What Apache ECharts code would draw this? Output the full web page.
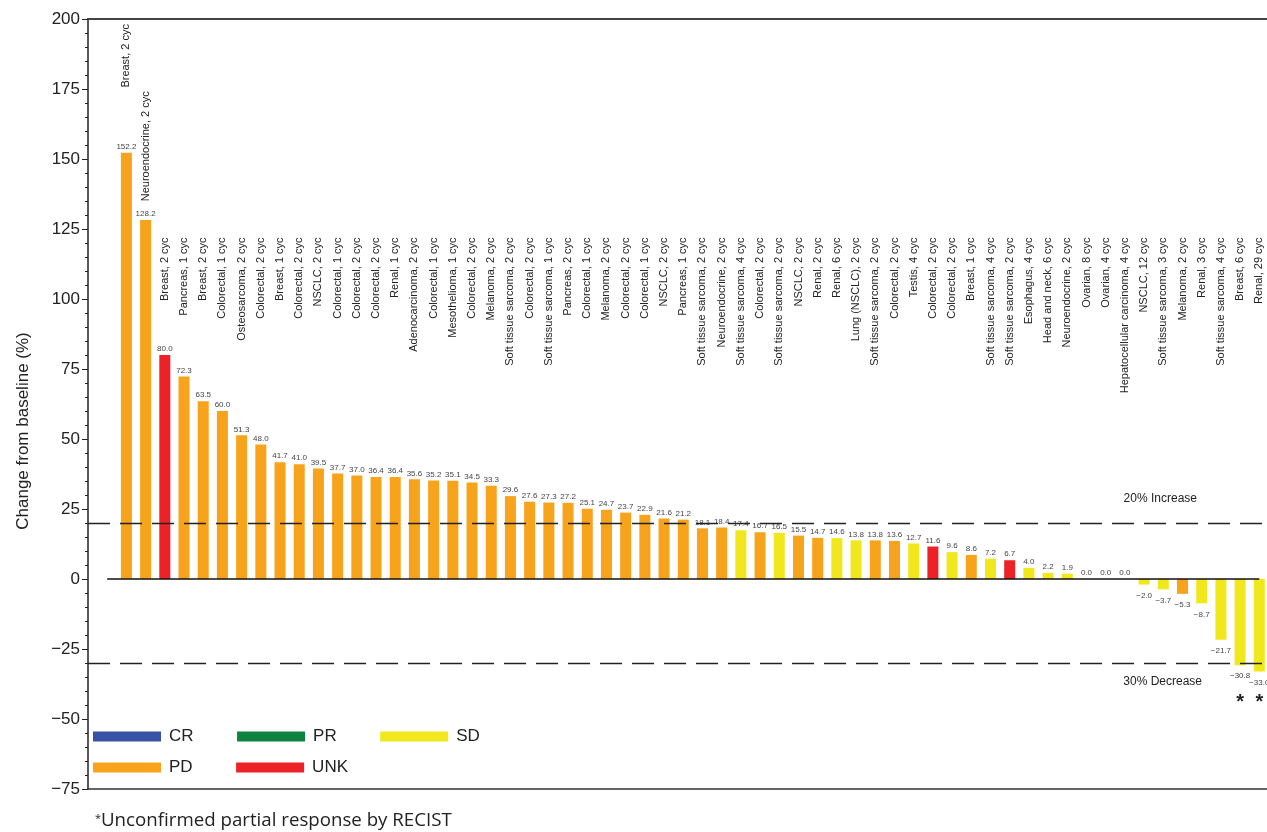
<!DOCTYPE html>
<html>
<head>
<meta charset="utf-8">
<script src="https://cdn.jsdelivr.net/npm/echarts@6/dist/echarts.min.js"></script>
<style>
  html, body { margin: 0; padding: 0; background: #fff; }
  #chart { width: 1267px; height: 832px; }
</style>
</head>
<body>
<div id="chart"></div>
<script>
// tumour type and cycles, one per patient, in plot order
const categories = [
  'Breast, 2 cyc', 'Neuroendocrine, 2 cyc', 'Breast, 2 cyc', 'Pancreas, 1 cyc', 'Breast, 2 cyc',
  'Colorectal, 1 cyc', 'Osteosarcoma, 2 cyc', 'Colorectal, 2 cyc', 'Breast, 1 cyc', 'Colorectal, 2 cyc',
  'NSCLC, 2 cyc', 'Colorectal, 1 cyc', 'Colorectal, 2 cyc', 'Colorectal, 2 cyc', 'Renal, 1 cyc',
  'Adenocarcinoma, 2 cyc', 'Colorectal, 1 cyc', 'Mesothelioma, 1 cyc', 'Colorectal, 2 cyc', 'Melanoma, 2 cyc',
  'Soft tissue sarcoma, 2 cyc', 'Colorectal, 2 cyc', 'Soft tissue sarcoma, 1 cyc', 'Pancreas, 2 cyc', 'Colorectal, 1 cyc',
  'Melanoma, 2 cyc', 'Colorectal, 2 cyc', 'Colorectal, 1 cyc', 'NSCLC, 2 cyc', 'Pancreas, 1 cyc',
  'Soft tissue sarcoma, 2 cyc', 'Neuroendocrine, 2 cyc', 'Soft tissue sarcoma, 4 cyc', 'Colorectal, 2 cyc', 'Soft tissue sarcoma, 2 cyc',
  'NSCLC, 2 cyc', 'Renal, 2 cyc', 'Renal, 6 cyc', 'Lung (NSCLC), 2 cyc', 'Soft tissue sarcoma, 2 cyc',
  'Colorectal, 2 cyc', 'Testis, 4 cyc', 'Colorectal, 2 cyc', 'Colorectal, 2 cyc', 'Breast, 1 cyc',
  'Soft tissue sarcoma, 4 cyc', 'Soft tissue sarcoma, 2 cyc', 'Esophagus, 4 cyc', 'Head and neck, 6 cyc', 'Neuroendocrine, 2 cyc',
  'Ovarian, 8 cyc', 'Ovarian, 4 cyc', 'Hepatocellular carcinoma, 4 cyc', 'NSCLC, 12 cyc', 'Soft tissue sarcoma, 3 cyc',
  'Melanoma, 2 cyc', 'Renal, 3 cyc', 'Soft tissue sarcoma, 4 cyc', 'Breast, 6 cyc', 'Renal, 29 cyc'
];

// % change from baseline
const values = [
  152.2, 128.2, 80.0, 72.3, 63.5, 60.0, 51.3, 48.0, 41.7, 41.0,
  39.5, 37.7, 37.0, 36.4, 36.4, 35.6, 35.2, 35.1, 34.5, 33.3,
  29.6, 27.6, 27.3, 27.2, 25.1, 24.7, 23.7, 22.9, 21.6, 21.2,
  18.1, 18.4, 17.4, 16.7, 16.5, 15.5, 14.7, 14.6, 13.8, 13.8,
  13.6, 12.7, 11.6, 9.6, 8.6, 7.2, 6.7, 4.0, 2.2, 1.9,
  0.0, 0.0, 0.0, -2.0, -3.7, -5.3, -8.7, -21.7, -30.8, -33.0
];

// best response
const status = [
  'PD', 'PD', 'UNK', 'PD', 'PD', 'PD', 'PD', 'PD', 'PD', 'PD',
  'PD', 'PD', 'PD', 'PD', 'PD', 'PD', 'PD', 'PD', 'PD', 'PD',
  'PD', 'PD', 'PD', 'PD', 'PD', 'PD', 'PD', 'PD', 'PD', 'PD',
  'PD', 'PD', 'SD', 'PD', 'SD', 'PD', 'PD', 'SD', 'SD', 'PD',
  'PD', 'SD', 'UNK', 'SD', 'PD', 'SD', 'UNK', 'SD', 'SD', 'SD',
  'SD', 'SD', 'SD', 'SD', 'SD', 'PD', 'SD', 'SD', 'SD', 'SD'
];

// bars marked with * (unconfirmed partial response)
const unconfirmed = [58, 59];

const responses = ['CR', 'PR', 'SD', 'PD', 'UNK'];
const responseColors = { CR: '#3953A4', PR: '#0F8140', SD: '#F1E71D', PD: '#F7A31C', UNK: '#EC2227' };

const yTicks = { min: -75, max: 200, step: 25 };
const refLines = [
  { y: 20, text: '20% Increase' },
  { y: -30, text: '30% Decrease' }
];

const FONT = '"Liberation Sans", Arial, sans-serif';
const minus = (s) => String(s).replace('-', '\u2212');

const chart = echarts.init(document.getElementById('chart'));

// value labels on top (or below for negative)
function barItem(i) {
  const v = values[i];
  const neg = v < 0;
  return {
    value: [i, v],
    label: {
      show: true,
      position: neg ? 'bottom' : 'top',
      distance: neg ? 7 : 2,
      formatter: minus(v.toFixed(1))
    }
  };
}

const barSeries = responses.map(function (r) {
  const data = [];
  values.forEach(function (v, i) { if (status[i] === r) data.push(barItem(i)); });
  return {
    name: r,
    type: 'bar',
    barWidth: 11,
    barGap: '-100%',
    color: responseColors[r],
    data: data,
    label: { fontSize: 8, color: '#444', fontFamily: FONT },
    z: 2
  };
});

// reference lines live on the PD series
barSeries[3].markLine = {
  silent: true,
  symbol: 'none',
  animation: false,
  data: refLines.map(function (l) {
    return {
      yAxis: l.y,
      lineStyle: { type: [22, 10], color: '#222', width: 1.4 },
      label: {
        show: true,
        formatter: l.text,
        position: l.y > 0 ? 'insideEndTop' : 'insideEndBottom',
        distance: l.y > 0 ? 18 : 13,
        padding: [0, 52, 0, 0],
        fontSize: 12,
        color: '#222',
        fontFamily: FONT
      }
    };
  }).concat([[
    { coord: [-1, 0], lineStyle: { type: 'solid', color: '#111', width: 1.6 }, label: { show: false } },
    { coord: [values.length - 1, 0] }
  ]])
};

function textSeries(data, textOf, style) {
  return {
    type: 'custom',
    silent: true,
    data: data,
    renderItem: function (params, api) {
      const p = api.coord([api.value(0), api.value(1)]);
      return {
        type: 'text',
        x: p[0],
        y: p[1],
        rotation: style.rotate ? Math.PI / 2 : 0,
        style: Object.assign({ text: textOf(params.dataIndex), fill: '#222', fontFamily: FONT }, style.text)
      };
    },
    z: 3
  };
}

// rotated tumour labels; labels of very tall bars float above them
const nameSeries = textSeries(
  values.map(function (v, i) { return [i, v > 100 ? v + 46 : 122]; }),
  function (k) { return categories[k]; },
  { rotate: true, text: { align: 'right', verticalAlign: 'middle', fontSize: 11 } }
);

// asterisks under unconfirmed responders
const starSeries = textSeries(
  unconfirmed.map(function (i) { return [i, -44]; }),
  function () { return '*'; },
  { rotate: false, text: { align: 'center', verticalAlign: 'middle', fontSize: 20, fontWeight: 'bold' } }
);

const legendBase = {
  icon: 'rect',
  itemWidth: 68,
  itemHeight: 10,
  itemGap: 43.5,
  left: 93,
  padding: 0,
  orient: 'horizontal',
  textStyle: { fontSize: 17, color: '#222', fontFamily: FONT, padding: [0, 0, 0, 3] }
};

const option = {
  animation: false,
  backgroundColor: '#fff',
  grid: { left: 88, right: 0, top: 19, bottom: 43 },
  legend: [
    Object.assign({}, legendBase, { top: 728, data: ['CR', 'PR', 'SD'] }),
    Object.assign({}, legendBase, { top: 759, data: ['PD', 'UNK'] })
  ],
  xAxis: [{
    type: 'value',
    min: -2,
    max: 59.4,
    axisLine: { show: true, onZero: false, lineStyle: { color: '#333', width: 1.6 } },
    axisTick: { show: false },
    axisLabel: { show: false },
    splitLine: { show: false }
  }, {
    type: 'value',
    position: 'top',
    min: -2,
    max: 59.4,
    axisLine: { show: true, onZero: false, lineStyle: { color: '#444', width: 2 } },
    axisTick: { show: false },
    axisLabel: { show: false },
    splitLine: { show: false }
  }],
  yAxis: {
    type: 'value',
    min: yTicks.min,
    max: yTicks.max,
    interval: yTicks.step,
    name: 'Change from baseline (%)',
    nameLocation: 'middle',
    nameGap: 56,
    nameTextStyle: { fontSize: 17, color: '#222', fontFamily: FONT, padding: [0, 54, 0, 0] },
    axisLine: { show: true, onZero: false, lineStyle: { color: '#222', width: 1.5 } },
    axisTick: { show: true, length: 6, lineStyle: { color: '#222', width: 1 } },
    minorTick: { show: true, splitNumber: 5, length: 3, lineStyle: { color: '#222', width: 1 } },
    axisLabel: {
      fontSize: 17,
      color: '#222',
      margin: 8,
      fontFamily: FONT,
      formatter: function (v) { return minus(v); }
    },
    splitLine: { show: false }
  },
  graphic: [
    { type: 'text', left: 95, top: 813, style: { text: '*', fontSize: 11, fill: '#222', fontFamily: '"Open Sans", sans-serif' } },
    { type: 'text', left: 101, top: 811, style: { text: 'Unconfirmed partial response by RECIST', fontSize: 18.7, fill: '#222', fontFamily: '"Open Sans", sans-serif' } }
  ],
  series: barSeries.concat([nameSeries, starSeries])
};

chart.setOption(option);
</script>
</body>
</html>
